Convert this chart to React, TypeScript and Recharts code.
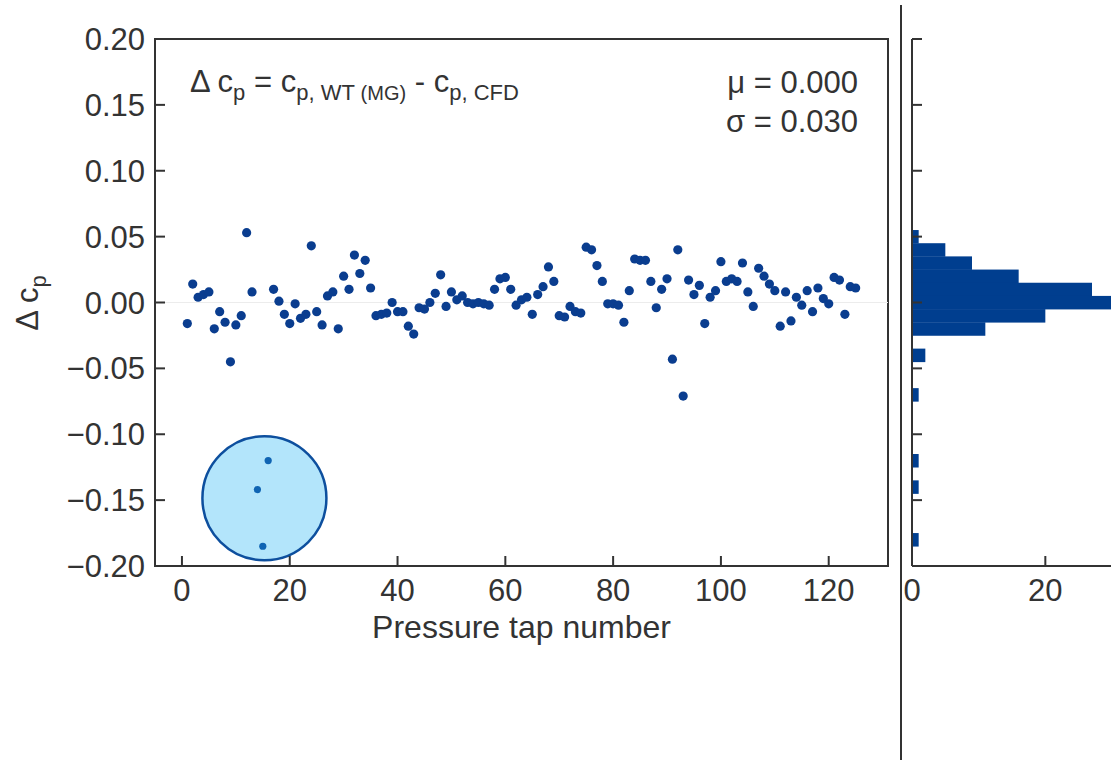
import React from 'react';
import {
  ScatterChart, Scatter, BarChart, Bar, XAxis, YAxis, ReferenceLine,
  ReferenceArea, Label
} from 'recharts';

// pressure tap deviations (taps 14-16 sit under the marker)
const taps = [
  1, 2, 3, 4, 5, 6, 7, 8, 9, 10, 11, 12, 13, 17, 18, 19, 20, 21, 22, 23, 24, 25, 26, 27, 28, 29,
  30, 31, 32, 33, 34, 35, 36, 37, 38, 39, 40, 41, 42, 43, 44, 45, 46, 47, 48, 49, 50, 51, 52, 53,
  54, 55, 56, 57, 58, 59, 60, 61, 62, 63, 64, 65, 66, 67, 68, 69, 70, 71, 72, 73, 74, 75, 76, 77,
  78, 79, 80, 81, 82, 83, 84, 85, 86, 87, 88, 89, 90, 91, 92, 93, 94, 95, 96, 97, 98, 99, 100,
  101, 102, 103, 104, 105, 106, 107, 108, 109, 110, 111, 112, 113, 114, 115, 116, 117, 118, 119,
  120, 121, 122, 123, 124, 125,
];
const dcp = [
  -0.016, 0.014, 0.004, 0.006, 0.008, -0.020, -0.007, -0.015, -0.045, -0.017, -0.010, 0.053, 0.008,
  0.010, 0.001, -0.009, -0.016, -0.001, -0.012, -0.009, 0.043, -0.007, -0.017, 0.005, 0.008, -0.020,
  0.020, 0.010, 0.036, 0.022, 0.032, 0.011, -0.010, -0.009, -0.008, 0.000, -0.007, -0.007, -0.018,
  -0.024, -0.004, -0.005, 0.000, 0.007, 0.021, -0.003, 0.008, 0.002, 0.005, 0.000, -0.001, 0.000,
  -0.001, -0.002, 0.010, 0.018, 0.019, 0.010, -0.002, 0.002, 0.004, -0.009, 0.006, 0.012, 0.027,
  0.016, -0.010, -0.011, -0.003, -0.007, -0.008, 0.042, 0.040, 0.028, 0.016, -0.001, -0.001, -0.002,
  -0.015, 0.009, 0.033, 0.032, 0.032, 0.016, -0.004, 0.010, 0.018, -0.043, 0.040, -0.071, 0.017,
  0.006, 0.013, -0.016, 0.004, 0.009, 0.031, 0.016, 0.018, 0.016, 0.030, 0.008, -0.003, 0.026,
  0.020, 0.014, 0.009, -0.018, 0.008, -0.014, 0.004, -0.002, 0.009, -0.007, 0.011, 0.003, -0.001,
  0.019, 0.017, -0.009, 0.012, 0.011,
];

// taps inside the highlighted circle
const circledTaps = [14, 15, 16];
const circledDcp = [-0.142, -0.185, -0.120];
const circleTap = 15.3;
const circleDcp = -0.1486;

// histogram of the deviations (bin width 0.01)
const binCenters = [0.05, 0.04, 0.03, 0.02, 0.01, 0.0, -0.01, -0.02, -0.04, -0.07, -0.12, -0.14, -0.18];
const binCounts = [1, 5, 9, 16, 27, 30, 20, 11, 2, 1, 1, 1, 1];

const yTicks = [-0.2, -0.15, -0.1, -0.05, 0, 0.05, 0.1, 0.15, 0.2];
const xTicks = [0, 20, 40, 60, 80, 100, 120];
const histTicks = [0, 20];

const points = taps.map((t, i) => ({ tap: t, dcp: dcp[i] }));
const circled = circledTaps.map((t, i) => ({ tap: t, dcp: circledDcp[i] }));
const marker = [{ tap: circleTap, dcp: circleDcp }];
const hist = binCenters.map((b, i) => ({ bin: b, count: binCounts[i] }));

const AXIS = '#333333';
const DOT = '#0a3d8f';
const FONT = '"Liberation Sans", Arial, sans-serif';

const fmt = (v: number) => (v < 0 ? '\u2212' + Math.abs(v).toFixed(2) : v.toFixed(2));

const YTick = (props: any) => {
  const { x, y, payload, noLabel } = props;
  return (
    <g>
      <line x1={x} y1={y} x2={x + 10} y2={y} stroke={AXIS} strokeWidth={2} />
      {!noLabel && (
        <text x={x - 10} y={y + 11} textAnchor="end" fontSize={31} fill={AXIS} fontFamily={FONT}>
          {fmt(payload.value)}
        </text>
      )}
    </g>
  );
};

const XTick = (props: any) => {
  const { x, y, payload } = props;
  return (
    <g>
      <line x1={x} y1={y} x2={x} y2={y - 10} stroke={AXIS} strokeWidth={2} />
      <text x={x} y={y + 35} textAnchor="middle" fontSize={31} fill={AXIS} fontFamily={FONT}>
        {payload.value}
      </text>
    </g>
  );
};

const App = () => {
  return (
    <div style={{ position: 'absolute', left: 0, top: 0, width: 1111, height: 760, overflow: 'hidden', background: '#fff' }}>
      <div style={{ position: 'absolute', left: 0, top: 0 }}>
        <ScatterChart width={900} height={760} margin={{ top: 39, right: 12, bottom: 134, left: 95 }}>
          <XAxis
            type="number"
            dataKey="tap"
            domain={[-5, 131]}
            ticks={xTicks}
            height={60}
            tickSize={0}
            tickMargin={0}
            tickLine={false}
            axisLine={{ stroke: AXIS, strokeWidth: 2 }}
            tick={<XTick />}
          >
            <Label
              content={(p: any) => (
                <text x={p.viewBox.x + p.viewBox.width / 2} y={p.viewBox.y + 72} textAnchor="middle"
                  fontSize={32} fill={AXIS} fontFamily={FONT}>
                  Pressure tap number
                </text>
              )}
            />
          </XAxis>
          <YAxis
            type="number"
            dataKey="dcp"
            domain={[-0.2, 0.2]}
            ticks={yTicks}
            width={60}
            tickSize={0}
            tickMargin={0}
            tickLine={false}
            axisLine={{ stroke: AXIS, strokeWidth: 2 }}
            tick={<YTick />}
          >
            <Label
              content={() => (
                <text x={38} y={303} transform="rotate(-90, 38, 303)" textAnchor="middle"
                  fontSize={31} fill={AXIS} fontFamily={FONT}>
                  Δ c<tspan fontSize={22} dy={8}>p</tspan>
                </text>
              )}
            />
          </YAxis>
          <ReferenceLine y={0} stroke="#ececec" strokeWidth={1} />
          <ReferenceArea x1={-5} x2={131} y1={-0.2} y2={0.2} fill="none" stroke={AXIS} strokeWidth={2} fillOpacity={0} />
          <Scatter
            data={points}
            isAnimationActive={false}
            shape={(p: any) => <circle cx={p.cx} cy={p.cy} r={4.6} fill={DOT} />}
          />
          <Scatter
            data={marker}
            isAnimationActive={false}
            shape={(p: any) => (
              <circle cx={p.cx} cy={p.cy} r={62} fill="#b3e5fb" stroke="#0d4f9e" strokeWidth={2.5} />
            )}
          />
          <Scatter
            data={circled}
            isAnimationActive={false}
            shape={(p: any) => <circle cx={p.cx} cy={p.cy} r={3.6} fill="#0f64b3" />}
          />
        </ScatterChart>
      </div>

      <div style={{ position: 'absolute', left: 860, top: 0 }}>
        <BarChart layout="vertical" data={hist} width={362} height={760}
          margin={{ top: 39, right: 10, bottom: 134, left: 12 }}>
          <XAxis
            type="number"
            domain={[0, 45]}
            ticks={histTicks}
            height={60}
            tickSize={0}
            tickMargin={0}
            tickLine={false}
            axisLine={{ stroke: AXIS, strokeWidth: 2 }}
            tick={<XTick />}
          />
          <YAxis
            type="number"
            dataKey="bin"
            domain={[-0.2, 0.2]}
            ticks={yTicks}
            reversed
            width={40}
            tickSize={0}
            tickMargin={0}
            tickLine={false}
            axisLine={{ stroke: AXIS, strokeWidth: 2 }}
            tick={<YTick noLabel />}
          />
          <Bar
            dataKey="count"
            barSize={13}
            isAnimationActive={false}
            shape={(p: any) => <rect x={p.x} y={p.y} width={p.width} height={p.height + 0.5} fill="#003e8f" />}
          />
        </BarChart>
      </div>

      <svg width={1111} height={760} style={{ position: 'absolute', left: 0, top: 0, pointerEvents: 'none' }}>
        <line x1={901} y1={5} x2={901} y2={760} stroke={AXIS} strokeWidth={2} />
        <text x={190} y={92} fontSize={31} fill={AXIS} fontFamily={FONT}>
          Δ c<tspan fontSize={22} dy={8}>p</tspan>
          <tspan dy={-8}> = c</tspan>
          <tspan fontSize={22} dy={8}>p, WT </tspan>
          <tspan fontSize={20}>(MG)</tspan>
          <tspan dy={-8}> - c</tspan>
          <tspan fontSize={22} dy={8}>p, CFD</tspan>
        </text>
        <text x={858} y={93} textAnchor="end" fontSize={31} fill={AXIS} fontFamily={FONT}>μ = 0.000</text>
        <text x={858} y={132} textAnchor="end" fontSize={31} fill={AXIS} fontFamily={FONT}>σ = 0.030</text>
      </svg>
    </div>
  );
};

export default App;
